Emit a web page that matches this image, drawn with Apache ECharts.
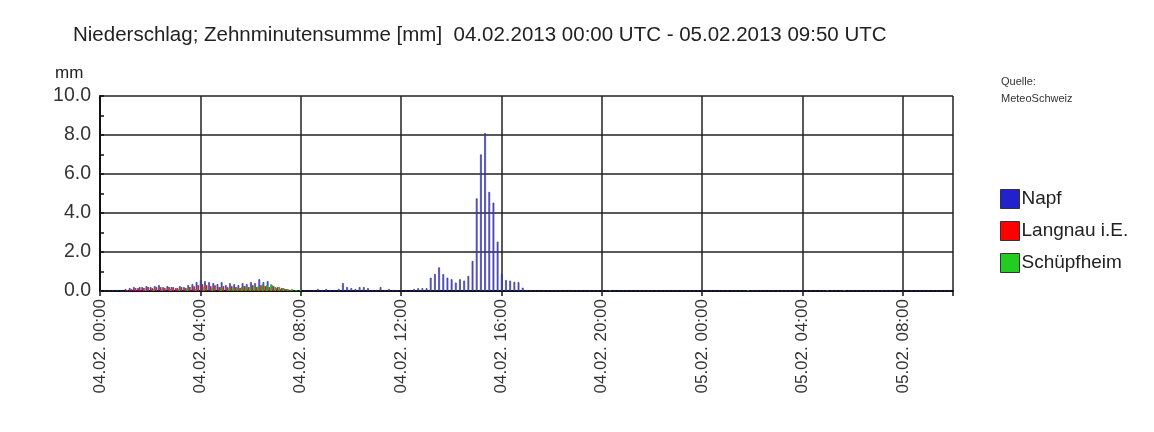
<!DOCTYPE html>
<html>
<head>
<meta charset="utf-8">
<script src="https://cdn.jsdelivr.net/npm/echarts@6/dist/echarts.min.js"></script>
<style>html,body{margin:0;padding:0;background:#fff}#c{width:1154px;height:432px}</style>
</head>
<body>
<div id="c"></div>
<script>
// 10-minute precipitation sums [mm], one value per bin starting 04.02.2013 00:00 UTC
// (24 bins = 4 hours per row)
const napf = [
  0,0,0,0,0.05,0,0.1,0.15,0.2,0.15,0.2,0.25,0.2,0.25,0.3,0.2,0.25,0.2,0.15,0.25,0.2,0.3,0.35,0.45,
  0.55,0.5,0.45,0.4,0.35,0.45,0.3,0.4,0.35,0.3,0.4,0.35,0.45,0.4,0.6,0.45,0.5,0.3,0.15,0.1,0.1,0.05,0.05,0,
  0.03,0,0.05,0.05,0.1,0.05,0.1,0.05,0.05,0.1,0.4,0.2,0.15,0.1,0.2,0.2,0.15,0.05,0.05,0.2,0.05,0.1,0.05,0,
  0.05,0,0.03,0.1,0.14,0.14,0.14,0.68,0.87,1.21,0.86,0.68,0.6,0.43,0.6,0.53,0.77,1.54,4.75,7.0,8.09,5.08,4.53,2.53,
  0.87,0.56,0.53,0.47,0.45,0.17,0.05,0.05,0,0,0,0,0,0,0,0,0.05,0,0,0,0,0,0,0,
  0,0,0,0,0,0,0,0,0,0,0,0,0,0,0,0,0,0,0,0,0,0,0,0,
  0,0,0,0,0,0,0,0,0,0,0,0,0,0,0,0,0,0,0,0,0,0,0,0,
  0,0,0,0,0,0,0,0,0,0,0,0,0,0,0,0,0,0,0,0,0,0,0,0,
  0,0,0,0,0,0,0,0,0,0,0,0
];
const langnau = [
  0,0,0,0,0,0,0.05,0.1,0.15,0.2,0.15,0.2,0.15,0.2,0.2,0.15,0.2,0.2,0.15,0.2,0.15,0.2,0.25,0.3,
  0.35,0.3,0.25,0.3,0.2,0.25,0.2,0.25,0.2,0.15,0.25,0.2,0.3,0.2,0.3,0.25,0.2,0.25,0.2,0.15,0.1,0.05,0,0,
  0,0,0,0,0,0,0,0,0,0,0,0,0,0,0,0,0,0,0,0,0,0,0,0,
  0,0,0,0,0,0,0,0,0,0,0,0,0,0,0,0,0,0,0,0,0,0,0,0,
  0,0,0,0,0,0,0,0,0,0,0,0,0,0,0,0,0,0,0,0,0,0,0,0,
  0,0,0,0,0,0,0,0,0,0,0,0,0,0,0,0,0,0,0,0,0,0,0,0,
  0,0,0,0,0,0,0,0,0,0,0,0,0,0,0,0,0,0,0,0,0,0,0,0,
  0,0,0,0,0,0,0,0,0,0,0,0,0,0,0,0,0,0,0,0,0,0,0,0,
  0,0,0,0,0,0,0,0,0,0,0,0
];
const schuepfheim = [
  0,0,0,0,0,0,0,0,0,0,0.05,0,0.1,0,0.1,0,0.1,0,0.1,0,0.15,0,0.1,0,
  0.2,0,0.15,0,0.2,0,0.15,0.2,0.15,0.2,0.25,0.2,0.3,0.25,0.35,0.3,0.35,0.2,0.2,0.15,0.1,0.1,0.05,0.05,
  0,0,0,0,0,0,0,0,0,0,0,0,0,0,0,0,0,0,0,0,0,0,0,0,
  0,0,0,0,0,0,0,0,0,0,0,0,0,0,0,0,0,0,0,0,0,0,0,0,
  0,0,0,0,0,0,0,0,0,0,0,0,0,0,0,0,0,0,0,0,0,0,0,0,
  0,0.03,0,0,0,0,0,0,0,0,0,0,0,0,0,0,0,0,0,0,0,0,0,0,
  0,0,0,0,0,0,0,0,0,0,0.04,0,0,0,0,0,0,0,0,0,0,0,0,0,
  0,0,0,0,0,0.03,0,0,0,0.03,0,0,0,0,0,0,0,0,0,0,0,0,0,0,
  0,0,0,0,0,0,0,0,0,0,0,0
];
const seriesNames = ['Napf', 'Langnau i.E.', 'Schüpfheim'];
const seriesColors = ['#2222cc', '#ff0000', '#22cc22'];
const xTickLabels = ['04.02. 00:00','04.02. 04:00','04.02. 08:00','04.02. 12:00','04.02. 16:00','04.02. 20:00','05.02. 00:00','05.02. 04:00','05.02. 08:00'];
const yTickLabels = ['0.0','2.0','4.0','6.0','8.0','10.0'];
const titleText = 'Niederschlag; Zehnminutensumme [mm]  04.02.2013 00:00 UTC - 05.02.2013 09:50 UTC';

const FONT = '"Liberation Sans", Arial, sans-serif';
// x in hours, bar centered in its 10-minute bin
const toPairs = arr => arr.map((v, i) => [(i + 0.5) / 6, v]);

const chart = echarts.init(document.getElementById('c'), null, {renderer: 'canvas'});
chart.setOption({
  animation: false,
  backgroundColor: '#fff',
  color: seriesColors,
  textStyle: {fontFamily: FONT},
  title: [
    {text: titleText, left: 68, top: 20, textStyle: {fontFamily: FONT, fontSize: 20.5, fontWeight: 'normal', color: '#222'}},
    {text: 'mm', left: 50, top: 60, textStyle: {fontFamily: FONT, fontSize: 17, fontWeight: 'normal', color: '#222'}},
    {text: 'Quelle:\nMeteoSchweiz', left: 996, top: 68, textStyle: {fontFamily: FONT, fontSize: 11, lineHeight: 17, fontWeight: 'normal', color: '#333'}}
  ],
  legend: {
    orient: 'vertical', left: 995, top: 184,
    itemWidth: 19, itemHeight: 19, itemGap: 12,
    icon: 'rect',
    data: seriesNames.map((n, k) => ({name: n, itemStyle: {color: seriesColors[k], borderColor: '#333', borderWidth: 1}})),
    textStyle: {fontFamily: FONT, fontSize: 19, color: '#222', padding: [0, 0, 0, -3]}
  },
  grid: {left: 100, right: 201, top: 96, bottom: 141, containLabel: false},
  xAxis: {
    type: 'value', min: 0, max: 34, interval: 4,
    axisLine: {show: true, lineStyle: {color: '#111', width: 2}},
    axisTick: {show: true, length: 5, lineStyle: {color: '#111', width: 1.5}},
    splitLine: {show: true, lineStyle: {color: '#222', width: 1.5}},
    axisLabel: {
      rotate: 90, margin: 8, fontFamily: FONT, fontSize: 17, color: '#333',
      formatter: v => (v % 4 === 0 && v / 4 < xTickLabels.length) ? xTickLabels[v / 4] : ''
    }
  },
  yAxis: {
    type: 'value', min: 0, max: 10, interval: 2,
    axisLine: {show: true, lineStyle: {color: '#111', width: 2}},
    axisTick: {show: true, inside: true, length: 4, lineStyle: {color: '#111', width: 1.5}},
    minorTick: {show: true, splitNumber: 2, length: 4, lineStyle: {color: '#111', width: 1.5}},
    splitLine: {show: true, lineStyle: {color: '#222', width: 1.5}},
    axisLabel: {margin: 9, fontFamily: FONT, fontSize: 19.5, color: '#333', formatter: v => yTickLabels[Math.round(v / 2)]}
  },
  series: [
    {name: seriesNames[0], type: 'bar', data: toPairs(napf), barWidth: 1.7, barGap: '0%',
     itemStyle: {color: '#6a6ad0', borderColor: '#22229a', borderWidth: 0.6}},
    {name: seriesNames[1], type: 'bar', data: toPairs(langnau), barWidth: 1.7, barGap: '0%',
     itemStyle: {color: '#d02020'}},
    {name: seriesNames[2], type: 'bar', data: toPairs(schuepfheim), barWidth: 1.7, barGap: '0%',
     itemStyle: {color: '#22b022'}}
  ]
});
</script>
</body>
</html>
